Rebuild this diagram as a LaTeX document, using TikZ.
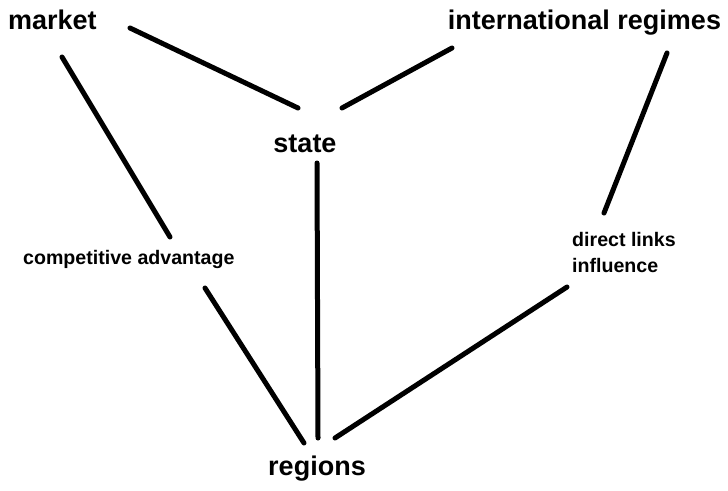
\documentclass[tikz,border=0pt]{standalone}
\usepackage{fontspec}
\setmainfont{Liberation Sans}
\begin{document}
\begin{tikzpicture}[x=1pt,y=-1pt,
  big/.style={inner sep=0pt,anchor=base west,font=\fontsize{27}{30}\selectfont\bfseries},
  small/.style={inner sep=0pt,anchor=base west,font=\fontsize{19.6}{26}\selectfont\bfseries,align=left},
  link/.style={line width=5pt,line cap=round}]
\useasboundingbox (0,0) rectangle (728,490);
% labels
\node[big] (market) at (8,29) {market};
\node[big,anchor=base] (intl) at (584.5,29) {international regimes};
\node[big,anchor=base] (state) at (305,152) {state};
\node[big,anchor=base] (regions) at (317,475) {regions};
\node[small] (comp) at (23,264) {competitive advantage};
\node[small] (direct) at (572,272) {direct links\\influence};
% connector ends
\coordinate (mS) at (130,28);  \coordinate (sM) at (298,108);
\coordinate (iS) at (452,48);  \coordinate (sI) at (342,108);
\coordinate (mC) at (62,57);   \coordinate (cM) at (170,237);
\coordinate (sR) at (317,163); \coordinate (rS) at (318,438);
\coordinate (cR) at (205,288); \coordinate (rC) at (304,443);
\coordinate (iD) at (667,53);  \coordinate (dI) at (604,213);
\coordinate (dR) at (567,287); \coordinate (rD) at (335,438);
% connectors
\draw[link] (mS) -- (sM);
\draw[link] (iS) -- (sI);
\draw[link] (mC) -- (cM);
\draw[link] (sR) -- (rS);
\draw[link] (cR) -- (rC);
\draw[link] (iD) -- (dI);
\draw[link] (dR) -- (rD);
\end{tikzpicture}
\end{document}
